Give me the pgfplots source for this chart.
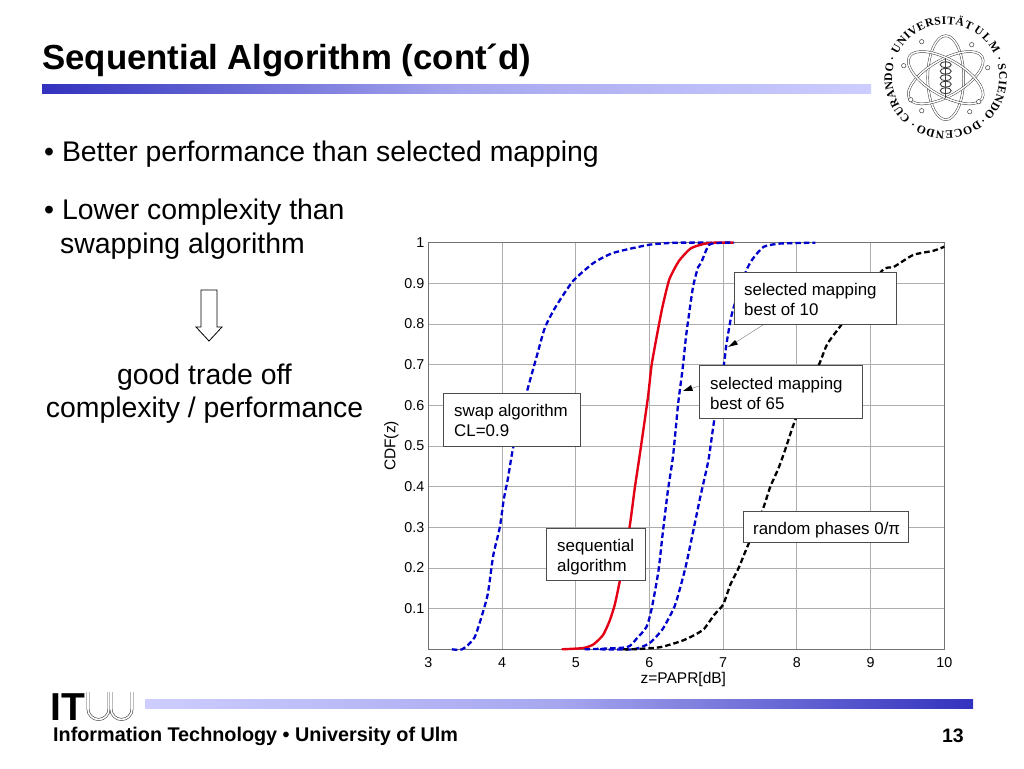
\documentclass[border=0pt]{standalone}
\usepackage{fontspec}
\setmainfont{Liberation Sans}
\newfontfamily\logofont{Liberation Serif}
\usepackage{pgfplots}
\pgfplotsset{compat=1.18}
\usetikzlibrary{decorations.text,arrows.meta,shadows}
\definecolor{curveblue}{RGB}{0,0,205}
\definecolor{curvered}{RGB}{228,0,20}
\definecolor{bardark}{RGB}{50,50,190}
\definecolor{barlight}{RGB}{205,205,255}
\newcommand{\fs}[1]{\fontsize{#1}{#1}\selectfont}
% one word of the seal, clockwise along the ring: from angle, to angle, word
\newcommand{\sealword}[3]{%
  \path[decorate, decoration={text along path, text align={fit to path},
    text={|\logofont\bfseries\fs{11.6}|#3}}]
    (945.7pt,690.3pt) ++(#1:53.5pt) arc[start angle=#1, end angle=#2, radius=53.5pt];}

\begin{document}
\begin{tikzpicture}
\useasboundingbox (0,0) rectangle (1024pt,768pt);
\begin{axis}[
    at={(428.3pt,118.7pt)}, anchor=south west,
    scale only axis,
    width=516pt, height=406.6pt,
    xmin=3, xmax=10, ymin=0, ymax=1,
    xtick={3,4,5,6,7,8,9,10},
    ytick={0.1,0.2,0.3,0.4,0.5,0.6,0.7,0.8,0.9,1},
    yticklabels={0.1,0.2,0.3,0.4,0.5,0.6,0.7,0.8,0.9,1},
    /pgf/number format/assume math mode=true,
    tick style={draw=none},
    grid=major,
    grid style={draw=black!32, line width=0.8pt},
    axis line style={draw=black!55, line width=0.9pt},
    tick label style={font=\fs{14.3}},
    xticklabel style={yshift=-5pt},
    yticklabel style={xshift=-0.5pt},
    xlabel={z=PAPR[dB]}, ylabel={CDF(z)},
    label style={font=\fs{15.5}},
    xlabel style={yshift=3pt, xshift=-3pt},
    ylabel style={yshift=-1pt},
    clip=false,
    every axis plot/.append style={line join=round, smooth, tension=0.35},
]
% swap algorithm CL=0.9
\addplot[curveblue, line width=2.3pt, dash pattern=on 5.5pt off 3pt] coordinates {
 (3.32,0) (3.46,0) (3.63,0.03) (3.8,0.13) (3.88,0.23) (3.97,0.30) (4.025,0.37)
 (4.08,0.42) (4.15,0.495) (4.31,0.615) (4.47,0.72) (4.58,0.79) (4.72,0.84)
 (4.96,0.905) (5.24,0.95) (5.51,0.975) (6.0,0.995) (6.37,1) (6.9,1)};
% selected mapping best of 10
\addplot[curveblue, line width=2.3pt, dash pattern=on 5.5pt off 3pt] coordinates {
 (5.33,0) (5.78,0) (6.0,0.015) (6.18,0.05) (6.34,0.105) (6.43,0.16) (6.5,0.21)
 (6.57,0.27) (6.69,0.375) (6.8,0.465) (6.88,0.565) (7.01,0.70) (7.04,0.745)
 (7.10,0.81) (7.15,0.845) (7.31,0.93) (7.40,0.96) (7.55,0.99) (7.78,0.998) (8.25,1)};
% random phases
\addplot[black, line width=2.3pt, dash pattern=on 5.5pt off 3pt] coordinates {
 (5.64,0) (5.78,0) (6.14,0.005) (6.43,0.02) (6.61,0.035) (6.74,0.05) (6.88,0.085)
 (7.0,0.11) (7.10,0.16) (7.21,0.2) (7.30,0.24) (7.53,0.34) (7.64,0.40) (7.75,0.445)
 (7.84,0.49) (7.98,0.565) (8.30,0.70) (8.41,0.75) (8.57,0.79) (9.15,0.93)
 (9.31,0.94) (9.58,0.97) (9.85,0.98) (10,0.99)};
% sequential algorithm
\addplot[curvered, line width=2.4pt] coordinates {
 (4.81,0) (5.10,0.003) (5.24,0.012) (5.37,0.035) (5.46,0.07) (5.53,0.11) (5.60,0.17)
 (5.73,0.30) (5.80,0.395) (5.87,0.48) (5.98,0.62) (6.03,0.70) (6.12,0.79) (6.18,0.845)
 (6.27,0.91) (6.40,0.955) (6.56,0.986) (6.74,0.997) (6.88,1) (7.14,1)};
% selected mapping best of 65
\addplot[curveblue, line width=2.3pt, dash pattern=on 5.5pt off 3pt] coordinates {
 (5.12,0) (5.69,0.005) (5.82,0.025) (5.96,0.055) (6.03,0.10) (6.12,0.19) (6.18,0.285)
 (6.25,0.39) (6.32,0.475) (6.39,0.605) (6.45,0.69) (6.50,0.775) (6.59,0.89)
 (6.66,0.94) (6.70,0.95) (6.81,0.995) (7.0,1) (7.15,1)};
\end{axis}

% page furniture, written in reference pixels (y downwards)
\begin{scope}[x=1pt,y=-1pt,yshift=768pt]
  % annotation boxes
  \tikzset{box/.style={draw=black!70, line width=1pt, fill=white},
           boxtxt/.style={anchor=west, align=left, inner sep=0pt, font=\fs{16.9}, text height=11.5pt, text depth=3.5pt}}
  \draw[black!45, line width=0.5pt] (763,325) -- (733,344);
  \fill[black] (728,347) -- (738,344.5) -- (735,340) -- cycle;
  \draw[black!45, line width=0.5pt] (699,386) -- (690,389);
  \fill[black] (683,391) -- (693,391) -- (691,385) -- cycle;
  \draw[box] (443,394) rectangle (580,447);
  \node[boxtxt] at (454,412.5) {swap algorithm};
  \node[boxtxt] at (454,432.5) {CL=0.9};
  \draw[box] (734,273) rectangle (896,325);
  \node[boxtxt] at (744,292) {selected mapping};
  \node[boxtxt] at (744,312) {best of 10};
  \draw[box] (699,366) rectangle (862,419);
  \node[boxtxt] at (710,385.5) {selected mapping};
  \node[boxtxt] at (710,405.5) {best of 65};
  \draw[box] (546,529) rectangle (645,581);
  \node[boxtxt] at (557,547.5) {sequential};
  \node[boxtxt] at (557,567.5) {algorithm};
  \draw[box] (743,512) rectangle (908,543);
  \node[boxtxt] at (753,531) {random phases 0/π};

  % title and bars
  \node[anchor=base west, inner sep=0pt, font=\fs{34.8}\bfseries] at (42,70) {Sequential Algorithm (cont´d)};
  \shade[left color=bardark, right color=barlight, middle color=barlight!75!bardark] (42,85) rectangle (871,94);
  \shade[left color=barlight, right color=bardark, middle color=barlight!75!bardark] (145,699) rectangle (973,708);

  % text on the left
  \tikzset{body/.style={inner sep=0pt, font=\fs{28.4}}}
  \node[body, anchor=base west] at (44,162) {• Better performance than selected mapping};
  \node[body, anchor=base west] at (44,220) {• Lower complexity than};
  \node[body, anchor=base west] at (60,254) {swapping algorithm};
  \node[body, anchor=base] at (204.5,384.5) {good trade off};
  \node[body, anchor=base] at (204.5,418) {complexity / performance};
  \draw[black, line width=0.8pt, line join=miter] (201,290) -- (217,290) -- (217,327) -- (222,327) -- (209,341)
     -- (196,327) -- (201,327) -- cycle;

  % footer
  \node[anchor=base west, inner sep=0pt, font=\fs{19.8}\bfseries] at (53,741) {Information Technology • University of Ulm};
  \node[anchor=base east, inner sep=0pt, font=\fs{19.5}\bfseries] at (964,742) {13};
  \node[anchor=base west, inner sep=0pt, font=\fs{39}\bfseries] at (50.5,720) {IT};
  \foreach \ux in {88,111} {
    \draw[black!75, line width=0.6pt, double=white, double distance=1.6pt]
      (\ux,692) -- (\ux,709) arc[start angle=180, end angle=0, radius=10.5] -- ++(0,-17);
  }

  % university seal, drawing only
  \begin{scope}[shift={(945.7,77.7)}]
    \foreach \a in {90,30,150} {
      \draw[black!75, line width=0.5pt, double=white, double distance=1.5pt, rotate=\a]
        (0,0) ellipse[x radius=42, y radius=18];
    }
    \foreach \p in {(-24,-36),(26,-33),(42,-10),(33,24),(-35,22),(-42,-12),(-24,33),(24,34)} {
      \draw[black!75, line width=0.5pt, fill=white] \p circle (2.2);
    }
    \draw[black!75, line width=1pt] (0,-20) -- (0,20);
    \foreach \b in {-13,-6.5,0,6.5,13} {
      \draw[black!75, line width=0.9pt] (0,\b) ellipse[x radius=5.5, y radius=3];
    }
  \end{scope}
\end{scope}
% seal lettering, in ordinary upward coordinates
\sealword{229}{165}{CURANDO}
\sealword{154}{62}{UNIVERSITÄT}
\sealword{59}{26}{ULM}
\sealword{14}{-45}{SCIENDO}
\sealword{-53}{-120}{DOCENDO}
\foreach \a in {160,20,-49,235} {
  \fill[black] (945.7pt,690.3pt) ++(\a:57pt) circle (1pt);
}
\end{tikzpicture}
\end{document}
